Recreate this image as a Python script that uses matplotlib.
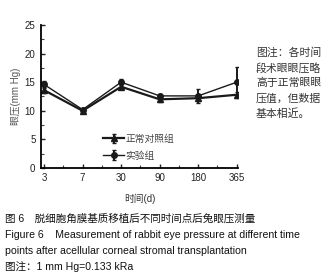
import numpy as np
import matplotlib.pyplot as plt

plt.rcParams['font.family'] = ['Liberation Sans', 'Noto Sans CJK SC', 'DejaVu Sans']

# data
days = ['3', '7', '30', '90', '180', '365']
control = [13.6, 10.0, 14.2, 12.0, 12.2, 12.8]
control_err = [0.5, 0.3, 0.4, 0.4, 0.5, 0.5]
exper = [14.6, 10.2, 15.0, 12.6, 12.6, 15.0]
exper_err = [0.6, 0.3, 0.5, 0.4, 1.2, 2.6]
note = "图注：各时间\n段术眼眼压略\n高于正常眼眼\n压值，但数据\n基本相近。"
caption = ["图 6　脱细胞角膜基质移植后不同时间点后兔眼压测量",
           "Figure 6    Measurement of rabbit eye pressure at different time",
           "points after acellular corneal stromal transplantation",
           "图注：1 mm Hg=0.133 kRa"]

fig = plt.figure(figsize=(3.36, 2.78), dpi=100)
ax = fig.add_axes([0.122, 0.396, 0.586, 0.514])
x = np.arange(len(days))

ax.errorbar(x, control, yerr=control_err, color='#1a1a1a', lw=1.6, marker='^',
            ms=4.5, capsize=1.5, elinewidth=1.4, label='正常对照组')
ax.errorbar(x, exper, yerr=exper_err, color='#1a1a1a', lw=1.0, marker='o',
            ms=4, capsize=1.5, elinewidth=1.4, label='实验组')

ax.set_xlim(-0.08, 5.03)
ax.set_ylim(0, 25)
ax.set_xticks(x)
ax.set_xticklabels(days)
ax.set_xticks(x[:-1] + 0.5, minor=True)
ax.set_yticks([0, 5, 10, 15, 20, 25])
ax.set_yticks(np.arange(2.5, 25, 5), minor=True)
ax.tick_params(direction='in', length=3, width=1, labelsize=7, colors='#222222', pad=4)
ax.tick_params(which='minor', direction='in', length=2, width=0.8, colors='#444444')
for s in ['top', 'right']:
    ax.spines[s].set_visible(False)
for s in ['left', 'bottom']:
    ax.spines[s].set_linewidth(1.3)

ax.set_ylabel('眼压(mm Hg)', fontsize=7, color='#555555', labelpad=3)
ax.set_xlabel('时间(d)', fontsize=7, color='#333333', labelpad=7)

ax.legend(loc='lower left', bbox_to_anchor=(0.27, -0.01), frameon=False, fontsize=7,
          handlelength=2.2, handletextpad=0.1, labelspacing=0.7, labelcolor='#444444')

fig.text(0.762, 0.83, note, fontsize=7.8, color='#333333', va='top', ha='left',
         linespacing=1.55, family=['Noto Sans CJK SC'])

ys = [0.215, 0.155, 0.097, 0.040]
for t, yy in zip(caption, ys):
    fig.text(0.015, yy, t, fontsize=7.6, color='#111111', va='center', ha='left')

fig.savefig('out.png', dpi=100)
